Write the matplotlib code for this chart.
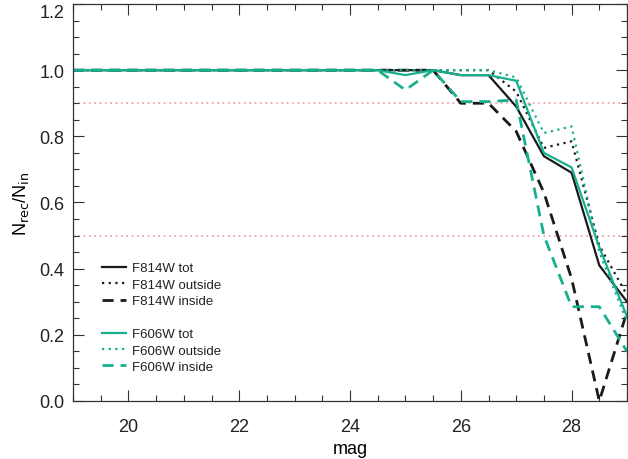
"""Completeness curves N_rec/N_in vs magnitude for F814W and F606W."""
import numpy as np
import matplotlib
matplotlib.use("Agg")
import matplotlib.pyplot as plt
from matplotlib.lines import Line2D
from matplotlib.ticker import MultipleLocator, FormatStrFormatter

plt.rcParams.update({
    "font.family": ["Liberation Sans", "DejaVu Sans"],
    "font.size": 13, "text.color": "#222222",
    "xtick.color": "#222222", "ytick.color": "#222222",
})

GREEN = "#16b08e"
BLACK = "#1a1a1a"

# magnitude bins (0.5 mag steps)
mag = [19.0, 19.5, 20.0, 20.5, 21.0, 21.5, 22.0, 22.5, 23.0, 23.5, 24.0,
       24.5, 25.0, 25.5, 26.0, 26.5, 27.0, 27.5, 28.0, 28.5, 29.0]
flat = [1.0] * 12  # 19.0 .. 24.5

f814_tot = flat + [1.00, 1.00, 0.985, 0.985, 0.89, 0.74, 0.69, 0.41, 0.30]
f814_out = flat + [1.00, 1.00, 1.00, 1.00, 0.935, 0.765, 0.785, 0.47, 0.32]
f814_in = flat + [1.00, 1.00, 0.90, 0.90, 0.815, 0.63, 0.37, 0.0, 0.27]
f606_tot = flat + [0.985, 1.00, 0.985, 0.985, 0.968, 0.75, 0.706, 0.465, 0.255]
f606_out = flat + [1.00, 1.00, 1.00, 1.00, 0.978, 0.81, 0.83, 0.45, 0.24]
f606_in = flat + [0.94, 1.00, 0.905, 0.905, 0.91, 0.50, 0.285, 0.285, 0.15]

levels = [0.9, 0.5]

fig = plt.figure(figsize=(6.28, 4.6), dpi=100)
ax = fig.add_axes([73 / 628, 58 / 460, 554 / 628, 397 / 460])

for lv in levels:
    ax.axhline(lv, color="#f08585", lw=1.1, ls=(0, (1, 2.5)), zorder=1)

dotted = (0, (1, 2))
dashed = (0, (4, 2.5))
ax.plot(mag, f814_tot, color=BLACK, lw=1.6, label="F814W tot")
ax.plot(mag, f814_out, color=BLACK, lw=1.6, ls=dotted, label="F814W outside")
ax.plot(mag, f814_in, color=BLACK, lw=2.0, ls=dashed, label="F814W inside")
ax.plot(mag, f606_tot, color=GREEN, lw=1.6, label="F606W tot")
ax.plot(mag, f606_out, color=GREEN, lw=1.6, ls=dotted, label="F606W outside")
ax.plot(mag, f606_in, color=GREEN, lw=2.0, ls=dashed, label="F606W inside")

ax.set_xlim(19, 29)
ax.set_ylim(0, 1.2)
ax.xaxis.set_major_locator(MultipleLocator(2))
ax.xaxis.set_minor_locator(MultipleLocator(0.5))
ax.yaxis.set_major_locator(MultipleLocator(0.2))
ax.yaxis.set_minor_locator(MultipleLocator(0.05))
ax.yaxis.set_major_formatter(FormatStrFormatter("%.1f"))
ax.tick_params(which="both", direction="in", top=True, right=True, width=0.8, color="#333333")
ax.tick_params(which="major", length=8)
ax.tick_params(which="minor", length=4)
ax.tick_params(axis="x", pad=12)
ax.tick_params(axis="y", pad=6)
for s in ax.spines.values():
    s.set_color("#333333")
    s.set_linewidth(0.9)

ax.set_xlabel("mag", labelpad=4)
ax.set_ylabel(r"N$_{\rm rec}$/N$_{\rm in}$", labelpad=6)

h, l = ax.get_legend_handles_labels()
blank = Line2D([], [], color="none")
handles = h[:3] + [blank] + h[3:]
labels = l[:3] + [""] + l[3:]
ax.legend(handles, labels, loc="upper left", bbox_to_anchor=(0.052, 0.35),
          frameon=False, fontsize=9.5, handlelength=1.8, handletextpad=0.5,
          labelspacing=0.32, borderpad=0, borderaxespad=0)

# keep the top y label inside the figure, as in the original
fig.canvas.draw()
for t in ax.yaxis.get_major_ticks():
    if abs(t.get_loc() - 1.2) < 1e-6:
        t.label1.set_verticalalignment("top")

fig.savefig("out.png", dpi=100)
